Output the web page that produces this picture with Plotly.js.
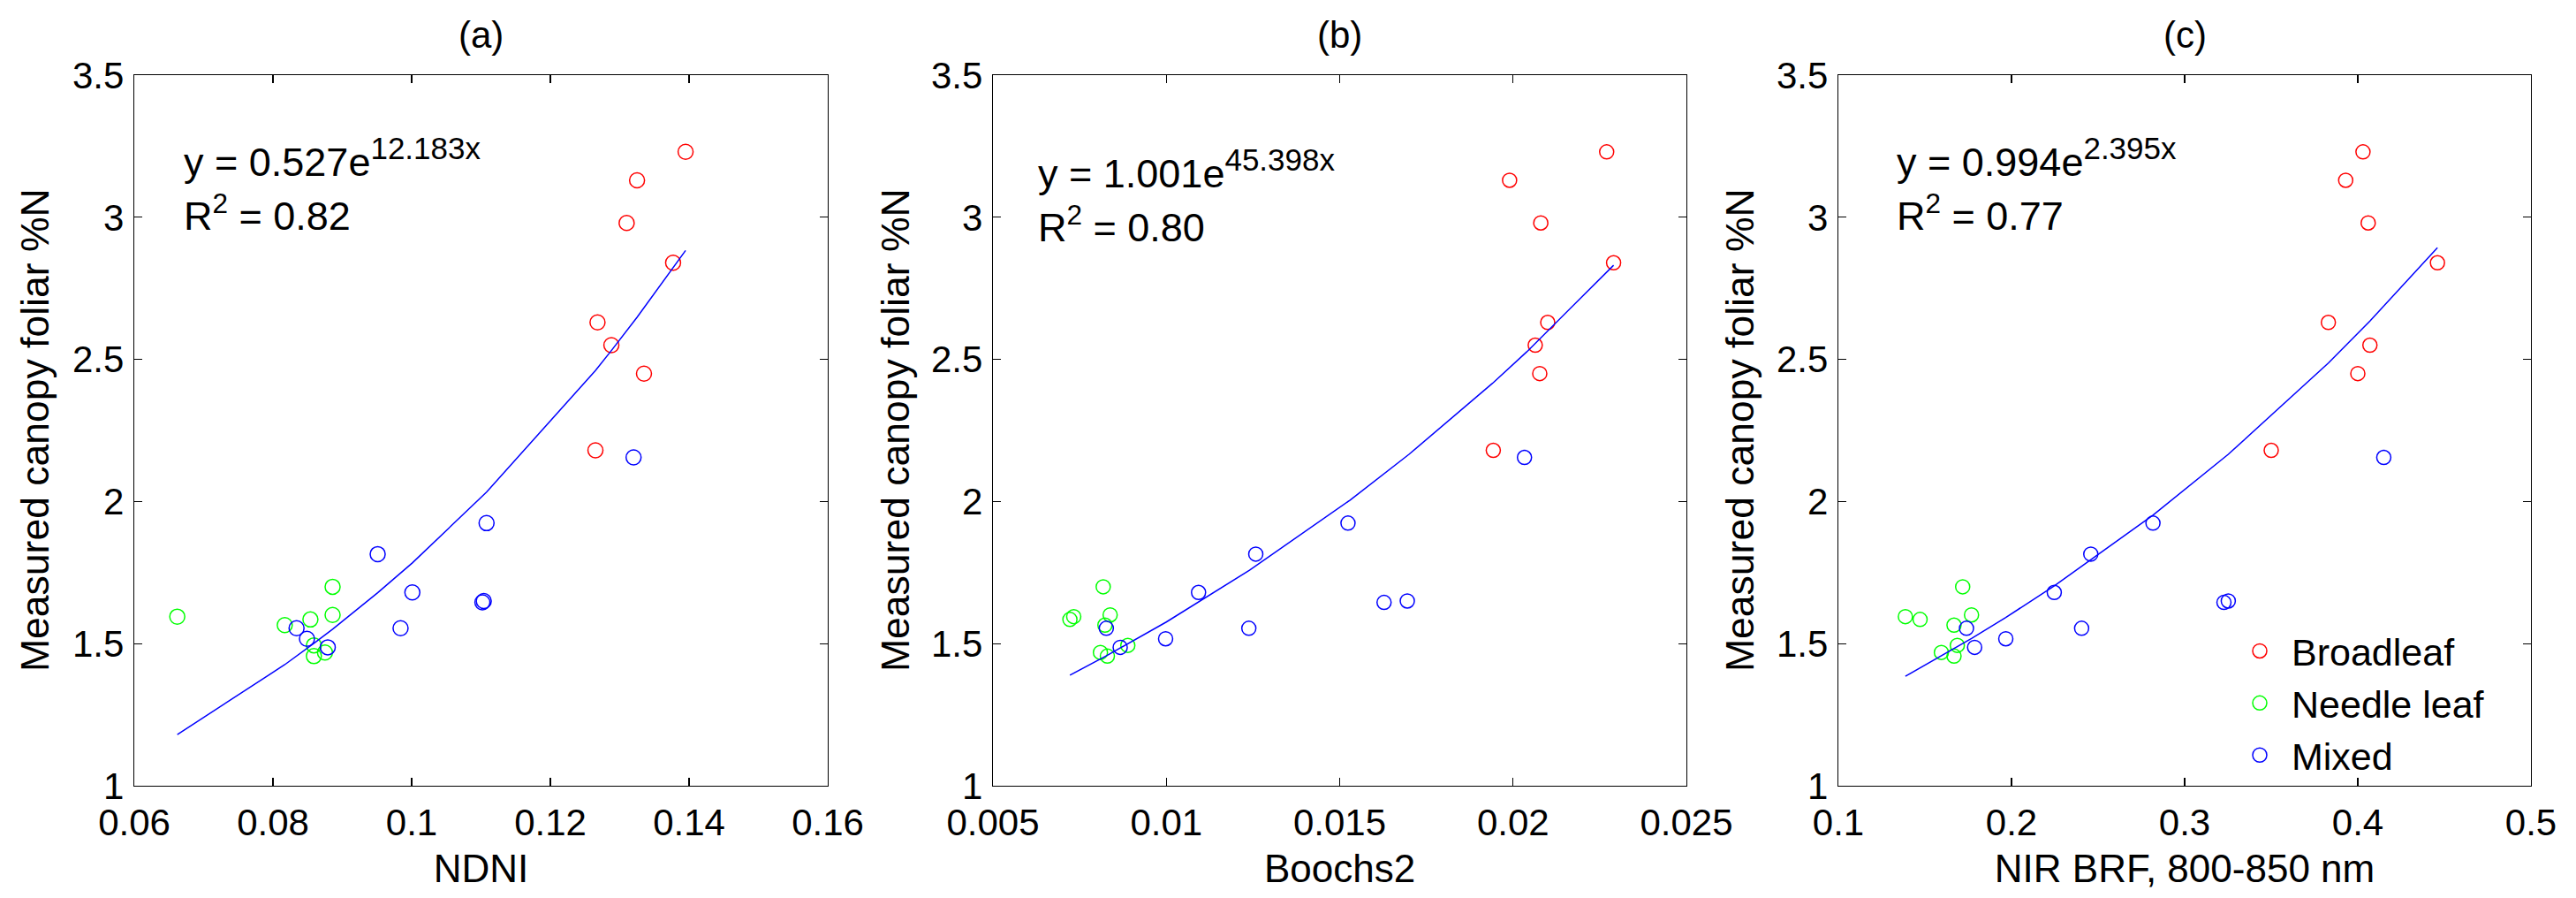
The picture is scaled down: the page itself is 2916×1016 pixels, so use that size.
<!DOCTYPE html>
<html>
<head>
<meta charset="utf-8">
<script src="https://cdn.plot.ly/plotly-3.0.1.min.js"></script>
<style>
  html,body{margin:0;padding:0;background:#fff}
  #plot{width:2916px;height:1016px}
</style>
</head>
<body>
<div id="plot"></div>
<script>
// measured canopy %N, same for every panel (grouped by forest type)
var nBroad  = [3.23, 3.13, 2.98, 2.84, 2.63, 2.55, 2.45, 2.18]
var nNeedle = [1.595, 1.700, 1.601, 1.585, 1.565, 1.494, 1.456, 1.469]
var nMixed  = [2.155, 1.924, 1.815, 1.680, 1.645, 1.650, 1.554, 1.554, 1.517, 1.487]

// (a) NDNI
var ndniBroad  = [0.1395, 0.1325, 0.1310, 0.1377, 0.1268, 0.1288, 0.1335, 0.1265]
var ndniNeedle = [0.0662, 0.0886, 0.0886, 0.0854, 0.0817, 0.0859, 0.0859, 0.0875]
var ndniMixed  = [0.1320, 0.1108, 0.0951, 0.1001, 0.1102, 0.1104, 0.0984, 0.0834, 0.0849, 0.0879]
var ndniFitX = [0.0662, 0.0817, 0.0859, 0.0886, 0.0951, 0.1001, 0.1108, 0.1265, 0.1288, 0.1325, 0.1395]
var ndniFitY = [1.180, 1.426, 1.501, 1.551, 1.679, 1.784, 2.033, 2.461, 2.531, 2.648, 2.883]

// (b) Boochs2
var boBroad  = [0.0227, 0.0199, 0.0208, 0.0229, 0.0210, 0.02064, 0.02077, 0.01943]
var boNeedle = [0.00733, 0.00818, 0.00838, 0.00722, 0.00823, 0.00889, 0.00830, 0.00810]
var boMixed  = [0.02033, 0.01524, 0.01258, 0.01093, 0.01628, 0.01695, 0.01238, 0.00827, 0.00998, 0.00867]
var boFitX = [0.00722, 0.0083, 0.0100, 0.0124, 0.0153, 0.0170, 0.0194, 0.0204, 0.0229]
var boFitY = [1.389, 1.459, 1.576, 1.758, 2.005, 2.166, 2.415, 2.527, 2.831]

// (c) NIR BRF 800-850 nm
var nirBroad  = [0.403, 0.393, 0.406, 0.446, 0.383, 0.407, 0.400, 0.350]
var nirNeedle = [0.1387, 0.1718, 0.1769, 0.1472, 0.1668, 0.1687, 0.1668, 0.1595]
var nirMixed  = [0.415, 0.2817, 0.2458, 0.2247, 0.3227, 0.3252, 0.2405, 0.174, 0.1967, 0.1787]
var nirFitX = [0.1387, 0.1595, 0.1769, 0.1967, 0.2247, 0.2817, 0.3252, 0.383, 0.407, 0.446]
var nirFitY = [1.385, 1.456, 1.518, 1.592, 1.703, 1.952, 2.166, 2.487, 2.635, 2.893]

var panelLetters = ['(a)', '(b)', '(c)']
var xTitles = ['NDNI', 'Boochs2', 'NIR BRF, 800-850 nm']
var yTitle = 'Measured canopy foliar %N'
var eqBase = ['y = 0.527e', 'y = 1.001e', 'y = 0.994e']
var eqExp = ['12.183x', '45.398x', '2.395x']
var r2Text = ['R<sup>2</sup> = 0.82', 'R<sup>2</sup> = 0.80', 'R<sup>2</sup> = 0.77']
var xRanges = [[0.06, 0.16], [0.005, 0.025], [0.1, 0.5]]
var xDticks = [0.02, 0.005, 0.1]
var seriesNames = ['Broadleaf', 'Needle leaf', 'Mixed']
var seriesColors = ['#ff0000', '#00ff00', '#0000ff']

var W = 2916, H = 1016
var FONT = 'Liberation Sans, Arial, Helvetica, sans-serif'

// pixel boxes of the three axes
var boxL = [152, 1124, 2081]
var boxR = [937, 1909, 2865]
var boxT = 85, boxB = 889

var xs = [[ndniBroad, ndniNeedle, ndniMixed], [boBroad, boNeedle, boMixed], [nirBroad, nirNeedle, nirMixed]]
var ys = [nBroad, nNeedle, nMixed]
var fitsX = [ndniFitX, boFitX, nirFitX]
var fitsY = [ndniFitY, boFitY, nirFitY]
var eqY = [178, 191, 178]
var eqX = [206, 1173, 2145]
var ytX = [39, 1013, 1969]

var data = []
var layout = {
  width: W, height: H,
  margin: {l: 0, r: 0, t: 0, b: 0},
  paper_bgcolor: '#fff', plot_bgcolor: '#fff',
  font: {family: FONT, size: 42, color: '#000'},
  showlegend: true,
  legend: {
    x: 2522 / W, xanchor: 'left', y: 1 - 702 / H, yanchor: 'top',
    bgcolor: 'rgba(0,0,0,0)', borderwidth: 0,
    font: {family: FONT, size: 43, color: '#000'},
    itemwidth: 62, tracegroupgap: 0
  },
  annotations: []
}

for (var p = 0; p < 3; p++) {
  var sfx = p == 0 ? '' : String(p + 1)
  for (var s = 0; s < 3; s++) {
    data.push({
      x: xs[p][s], y: ys[s],
      xaxis: 'x' + sfx, yaxis: 'y' + sfx,
      type: 'scatter', mode: 'markers',
      name: seriesNames[s],
      showlegend: p == 2,
      legendgroup: seriesNames[s],
      marker: {symbol: 'circle-open', size: p == 0 ? 17 : 16, color: seriesColors[s], line: {width: 1.5}},
      hoverinfo: 'x+y'
    })
  }
  data.push({
    x: fitsX[p], y: fitsY[p],
    xaxis: 'x' + sfx, yaxis: 'y' + sfx,
    type: 'scatter', mode: 'lines',
    showlegend: false,
    line: {color: '#0000ff', width: 1.5}
  })

  var axCommon = {
    showline: true, linecolor: '#000', linewidth: 1.3, mirror: 'ticks',
    ticks: 'inside', ticklen: 9, tickwidth: 1.3, tickcolor: '#000',
    showgrid: false, zeroline: false,
    tickfont: {family: FONT, size: 42, color: '#000'}
  }
  layout['xaxis' + sfx] = Object.assign({}, axCommon, {
    domain: [boxL[p] / W, boxR[p] / W],
    anchor: 'y' + sfx,
    range: xRanges[p], dtick: xDticks[p], tick0: xRanges[p][0],
    ticklabelstandoff: 4,
    title: {text: xTitles[p], font: {family: FONT, size: 44, color: '#000'}, standoff: 14}
  })
  layout['yaxis' + sfx] = Object.assign({}, axCommon, {
    domain: [1 - boxB / H, 1 - boxT / H],
    anchor: 'x' + sfx,
    range: [1, 3.5], dtick: 0.5, tick0: 1,
    ticklabelstandoff: 2
  })

  layout.annotations.push({
    xref: 'paper', yref: 'paper',
    x: (boxL[p] + boxR[p]) / 2 / W, y: 1 - 39 / H,
    text: panelLetters[p], showarrow: false,
    xanchor: 'center', yanchor: 'middle',
    font: {family: FONT, size: 42, color: '#000'}
  })
  layout.annotations.push({
    xref: 'paper', yref: 'paper',
    x: ytX[p] / W, y: 1 - ((boxT + boxB) / 2) / H,
    text: yTitle, textangle: -90, showarrow: false,
    xanchor: 'center', yanchor: 'middle',
    font: {family: FONT, size: 44.5, color: '#000'}
  })
  layout.annotations.push({
    xref: 'paper', yref: 'paper',
    x: eqX[p] / W, y: 1 - eqY[p] / H,
    text: eqBase[p] + '<sup><span style="font-size:35px">' + eqExp[p] + '</span></sup>',
    showarrow: false,
    xanchor: 'left', yanchor: 'middle',
    font: {family: FONT, size: 45, color: '#000'}
  })
  layout.annotations.push({
    xref: 'paper', yref: 'paper',
    x: eqX[p] / W, y: 1 - (eqY[p] + 63) / H,
    text: r2Text[p], showarrow: false,
    xanchor: 'left', yanchor: 'middle',
    font: {family: FONT, size: 45, color: '#000'}
  })
}

Plotly.newPlot('plot', data, layout, {staticPlot: true, displayModeBar: false})
</script>
</body>
</html>
